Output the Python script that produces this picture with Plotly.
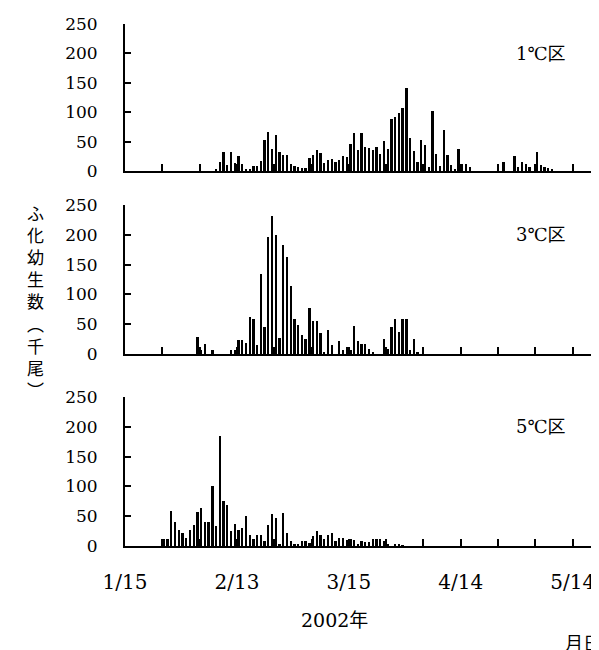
import plotly.graph_objects as go

# ---- data (day offset from 1/15/2002; thousand larvae) ----
panel_labels = ["1℃区", "3℃区", "5℃区"]

start_1c = 24
vals_1c = [2, 15, 32, 10, 32, 14, 26, 12, 4, 4, 8, 8, 17, 52, 66, 38, 61, 32, 28, 28,
           12, 8, 6, 5, 5, 22, 28, 35, 31, 13, 19, 20, 16, 18, 25, 24, 46, 64, 35,
           64, 41, 39, 35, 40, 29, 51, 37, 88, 92, 98, 107, 141, 56, 34, 15, 52, 44, 7, 102,
           29, 8, 70, 28, 11, 2, 37, 12, 12, 6,
           0, 0, 0, 0, 0, 0, 0, 0, 16, 0, 0, 25, 7, 15, 12, 6, 0, 33, 10, 6, 5, 3]

start_3c = 19
vals_3c = [29, 7, 17, 0, 7, 0, 0, 0, 0, 7, 6, 24, 24, 19, 62, 59, 15, 134, 46, 197,
           232, 200, 27, 183, 162, 114, 58, 48, 32, 26, 77, 55, 55, 35, 2, 40, 15, 0, 21, 7,
           11, 7, 47, 22, 17, 17, 8, 3, 0, 0, 26, 8, 45, 58, 37, 59, 58, 7, 26, 2]

start_5c = 10
vals_5c = [12, 11, 59, 41, 27, 21, 13, 27, 35, 57, 64, 40, 40, 100, 33, 184, 75, 68, 26, 37,
           27, 31, 50, 18, 12, 19, 18, 9, 36, 53, 47, 3, 55, 21, 8, 2, 3, 9, 9, 5,
           17, 26, 18, 12, 18, 21, 9, 13, 13, 10, 11, 10, 4, 8, 7, 7, 12, 12, 11, 9,
           3, 0, 3, 2, 1]

tick_days = [0, 10, 20, 30, 40, 50, 60, 70, 80, 90, 100, 110, 120]
tick_text = ["1/15", "", "", "2/13", "", "", "3/15", "", "", "4/14", "", "", "5/14"]
y_ticks = [0, 50, 100, 150, 200, 250]

series = [(start_1c, vals_1c), (start_3c, vals_3c), (start_5c, vals_5c)]

# page has an 8px body margin; figure is sized to fit the 599x650 window
OFF = 8
W, H = 599 - OFF, 650 - OFF
L = 124.5 - OFF

def fy(py):
    return 1 - (py - OFF) / H

def fx(px):
    return (px - OFF - L) / (W - L)

domains = [(fy(171), fy(24)), (fy(354), fy(205)), (fy(546), fy(397))]

SERIF = "DejaVu Serif, Liberation Serif, Noto Sans CJK JP, serif"
CJK = "Noto Sans CJK JP, sans-serif"

fig = go.Figure()
for i, (start, vals) in enumerate(series):
    xs = [start + j for j in range(len(vals))]
    sfx = "" if i == 0 else str(i + 1)
    fig.add_trace(go.Bar(x=xs, y=vals, width=0.62, offset=0.1,
                         marker=dict(color="black", line=dict(width=0)),
                         xaxis="x" + sfx, yaxis="y" + sfx, showlegend=False))
    fig.update_layout(**{
        "xaxis" + sfx: dict(range=[0, (W - L) / 3.735], anchor="y" + sfx, domain=[0, 1],
                           tickmode="array", tickvals=tick_days, ticktext=tick_text,
                           ticks="inside", ticklen=7, tickwidth=2, tickcolor="black",
                           showline=True, linewidth=2, linecolor="black",
                           showgrid=False, zeroline=False, automargin=False,
                           showticklabels=(i == 2), ticklabelstandoff=17,
                           tickfont=dict(family=SERIF, size=20, color="black")),
        "yaxis" + sfx: dict(range=[0, 250], anchor="x" + sfx, domain=list(domains[i]),
                           tickmode="array", tickvals=y_ticks,
                           ticks="inside", ticklen=6, tickwidth=2, tickcolor="black",
                           showline=True, linewidth=2, linecolor="black",
                           showgrid=False, zeroline=False, automargin=False,
                           ticklabelstandoff=22,
                           tickfont=dict(family=SERIF, size=17, color="black")),
    })
    fig.add_annotation(text=panel_labels[i], x=111.5, y=200, xref="x" + sfx, yref="y" + sfx,
                       xanchor="center", yanchor="middle",
                       showarrow=False, font=dict(family=SERIF, size=18, color="black"))

fig.add_annotation(text="<br>".join(list("ふ化幼生数︵千尾︶")), x=fx(35), y=fy(301),
                   xref="paper", yref="paper", xanchor="center", yanchor="middle",
                   showarrow=False, font=dict(family=CJK, size=17, color="black"))
fig.add_annotation(text="2002年", x=fx(334), y=fy(620), xref="paper", yref="paper",
                   xanchor="center", yanchor="middle",
                   showarrow=False, font=dict(family=SERIF, size=19, color="black"))
fig.add_annotation(text="月日", x=fx(563), y=fy(642), xref="paper", yref="paper",
                   xanchor="left", yanchor="middle",
                   showarrow=False, font=dict(family=CJK, size=18, color="black"))

fig.update_layout(width=W, height=H, margin=dict(l=L, r=0, t=0, b=0, autoexpand=False),
                  plot_bgcolor="white", paper_bgcolor="white", bargap=0)
fig.write_html("out.html")
